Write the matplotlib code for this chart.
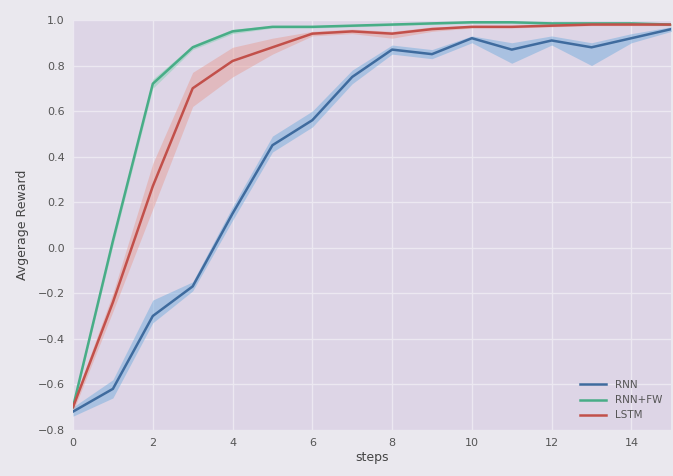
import numpy as np
import matplotlib
matplotlib.use("Agg")
import matplotlib.pyplot as plt

steps = np.arange(16)

rnn = [-0.72, -0.62, -0.30, -0.17, 0.15, 0.45, 0.56, 0.75, 0.87, 0.85, 0.92, 0.87, 0.91, 0.88, 0.92, 0.96]
rnn_lo = [-0.74, -0.66, -0.33, -0.19, 0.12, 0.42, 0.53, 0.72, 0.85, 0.83, 0.90, 0.81, 0.89, 0.80, 0.90, 0.95]
rnn_hi = [-0.70, -0.58, -0.23, -0.15, 0.18, 0.49, 0.60, 0.78, 0.89, 0.87, 0.93, 0.90, 0.93, 0.90, 0.94, 0.97]

fw = [-0.70, 0.03, 0.72, 0.88, 0.95, 0.97, 0.97, 0.975, 0.98, 0.985, 0.99, 0.99, 0.985, 0.985, 0.985, 0.98]
fw_lo = [-0.71, 0.01, 0.70, 0.87, 0.94, 0.965, 0.965, 0.97, 0.975, 0.98, 0.985, 0.985, 0.98, 0.98, 0.98, 0.975]
fw_hi = [-0.69, 0.05, 0.74, 0.89, 0.96, 0.975, 0.975, 0.98, 0.985, 0.99, 0.995, 0.995, 0.99, 0.99, 0.99, 0.985]

lstm = [-0.70, -0.24, 0.27, 0.70, 0.82, 0.88, 0.94, 0.95, 0.94, 0.96, 0.97, 0.97, 0.975, 0.98, 0.98, 0.98]
lstm_lo = [-0.72, -0.28, 0.17, 0.62, 0.75, 0.85, 0.93, 0.94, 0.92, 0.95, 0.965, 0.965, 0.97, 0.975, 0.975, 0.975]
lstm_hi = [-0.68, -0.20, 0.37, 0.77, 0.88, 0.92, 0.95, 0.96, 0.95, 0.97, 0.975, 0.975, 0.98, 0.985, 0.985, 0.985]

yticks = [-0.8, -0.6, -0.4, -0.2, 0.0, 0.2, 0.4, 0.6, 0.8, 1.0]

series = [
    ("RNN", rnn, rnn_lo, rnn_hi, "#3f6b9e", "#6aa9dc"),
    ("RNN+FW", fw, fw_lo, fw_hi, "#48ad87", "#7fd0b0"),
    ("LSTM", lstm, lstm_lo, lstm_hi, "#c2504a", "#e69a90"),
]

fig = plt.figure(figsize=(6.73, 4.76), dpi=100, facecolor="#eae8ee")
ax = fig.add_axes([0.1085, 0.097, 0.889, 0.861])
ax.set_facecolor("#ddd5e6")

for name, y, lo, hi, c, cf in series:
    ax.fill_between(steps, lo, hi, color=cf, alpha=0.45, lw=0)
    ax.plot(steps, y, color=c, lw=1.8, label=name)

ax.set_xlim(0, 15)
ax.set_ylim(-0.8, 1.0)
ax.set_xticks(range(0, 16, 2))
ax.set_yticks(yticks)
ax.set_yticklabels([("%.1f" % v).replace("-", "\u2212") for v in yticks])
ax.grid(True, color="#ece8f1", lw=1)
ax.set_axisbelow(True)
for s in ax.spines.values():
    s.set_visible(False)
ax.tick_params(length=0, labelsize=8, colors="#555555", pad=6)
ax.set_xlabel("steps", fontsize=9, color="#444444", labelpad=2)
ax.set_ylabel("Avgerage Reward", fontsize=9, color="#444444", labelpad=6)
ax.legend(loc="lower right", frameon=False, fontsize=7.5, labelcolor="#555555",
          handlelength=2.5)

fig.savefig("out.png", dpi=100, facecolor=fig.get_facecolor())
